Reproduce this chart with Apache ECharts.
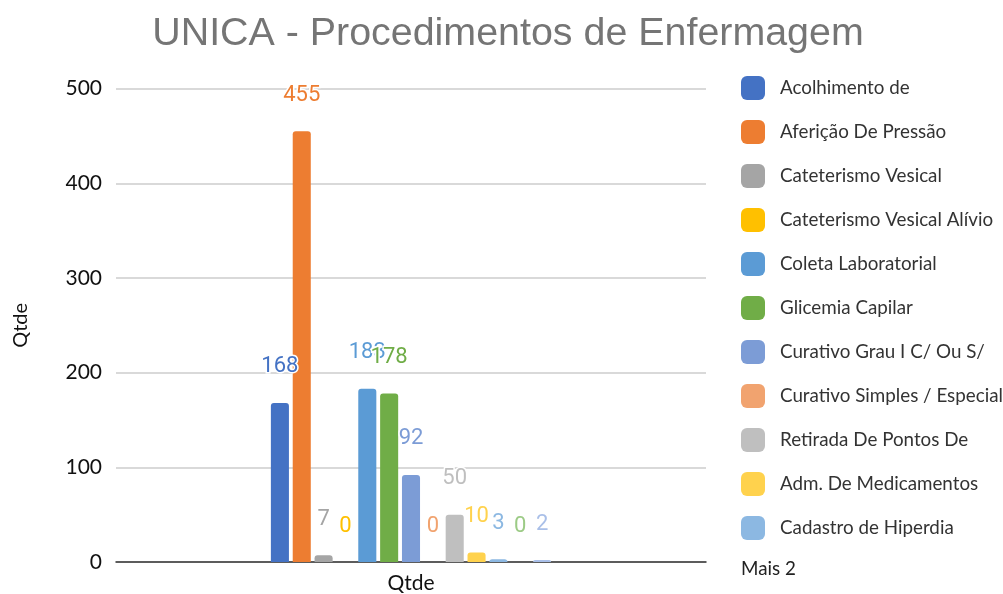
<!DOCTYPE html>
<html><head><meta charset="utf-8">
<script src="https://cdn.jsdelivr.net/npm/echarts@6/dist/echarts.min.js"></script>
<style>html,body{margin:0;padding:0;background:#fff}#c{width:1003px;height:594px}</style>
</head><body><div id="c"></div>
<script>
const categories = ['Qtde'];
const seriesNames = ['Acolhimento de','Aferição De Pressão','Cateterismo Vesical','Cateterismo Vesical Alívio','Coleta Laboratorial','Glicemia Capilar','Curativo Grau I C/ Ou S/','Curativo Simples / Especial','Retirada De Pontos De','Adm. De Medicamentos','Cadastro de Hiperdia','Série 12','Série 13'];
const values = [168, 455, 7, 0, 183, 178, 92, 0, 50, 10, 3, 0, 2];
const colors = ['#4472c4','#ed7d31','#a5a5a5','#ffc000','#5b9bd5','#70ad47','#7c9cd6','#f1a36f','#bfbfbf','#ffd24d','#8cb8e2','#9ccb86','#a9bfe8'];
const yTicks = [0, 100, 200, 300, 400, 500];

const series = seriesNames.map((n, i) => ({
  name: n, type: 'bar', data: [values[i]],
  barGap: '21%', barCategoryGap: '52.5%',
  itemStyle: { color: colors[i], borderRadius: [3,3,0,0] },
  label: { show: true, position: 'top', distance: 25, color: colors[i],
    fontFamily: 'Roboto', fontSize: 22, textBorderColor: '#fff', textBorderWidth: 3 }
}));

const chart = echarts.init(document.getElementById('c'), null, { renderer: 'canvas' });
chart.setOption({
  backgroundColor: '#fff',
  animation: false,
  color: colors,
  title: { text: 'UNICA - Procedimentos de Enfermagem', left: 503, textAlign: 'center', top: 10,
    textStyle: { fontFamily: 'Liberation Sans', fontSize: 39.4, fontWeight: 'normal', color: '#757575' } },
  legend: {
    data: seriesNames.slice(0, 11), orient: 'vertical', left: 736, top: 71,
    itemWidth: 24, itemHeight: 24, itemGap: 20, icon: 'roundRect',
    textStyle: { fontFamily: 'Lato', fontSize: 18.8, color: '#333', padding: [0,0,0,10] }
  },
  graphic: [{ type: 'text', left: 741, top: 559, style: { text: 'Mais 2', fontFamily: 'Lato', fontSize: 18.8, fill: '#222' } }],
  grid: { left: 116, right: 297, top: 88.7, bottom: 30.7 },
  xAxis: { type: 'category', data: categories,
    axisLine: { lineStyle: { color: '#333', width: 1.5 } }, axisTick: { show: false },
    axisLabel: { color: '#111', fontFamily: 'Lato', fontSize: 21, margin: 11 } },
  yAxis: { type: 'value', min: yTicks[0], max: yTicks[yTicks.length-1], interval: 100,
    name: 'Qtde', nameLocation: 'middle', nameGap: 85, nameRotate: 90,
    nameTextStyle: { color: '#111', fontFamily: 'Lato', fontSize: 20 },
    axisLine: { show: false }, axisTick: { show: false },
    axisLabel: { color: '#111', fontFamily: 'Lato', fontSize: 21, margin: 14 },
    splitLine: { lineStyle: { color: '#cccccc', width: 1.5 } } },
  series: series
});
</script></body></html>
